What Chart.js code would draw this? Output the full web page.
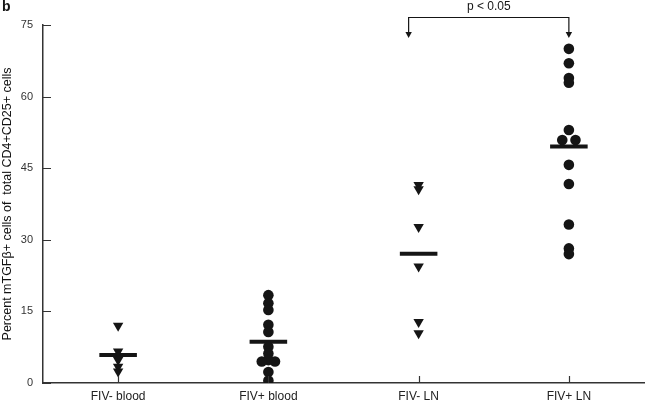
<!DOCTYPE html>
<html>
<head>
<meta charset="utf-8">
<script src="https://cdn.jsdelivr.net/npm/chart.js@4.4.0/dist/chart.umd.min.js"></script>
<style>
  html, body { margin: 0; padding: 0; background: #fff; }
</style>
</head>
<body>
<canvas id="chart" width="650" height="404"></canvas>
<script>
const categories = ['FIV- blood', 'FIV+ blood', 'FIV- LN', 'FIV+ LN'];
const fivNegBlood = [12.0, 6.6, 4.8, 3.4, 2.4];
const fivPosBlood = [18.4, 16.7, 15.3, 12.2, 10.7, 7.6, 6.2, 4.8, 4.5, 4.5, 2.3, 0.5];
const fivNegLN = [41.5, 40.6, 32.7, 24.4, 12.8, 10.4];
const fivPosLN = [70.0, 67.0, 63.9, 62.9, 53.0, 50.9, 50.9, 45.7, 41.7, 33.2, 28.2, 27.0];
const yTicks = [0, 15, 30, 45, 60, 75];
const pLabel = 'p < 0.05';

const groups = [fivNegBlood, fivPosBlood, fivNegLN, fivPosLN];
const markers = ['triangle', 'circle', 'triangle', 'circle'];
const ink = '#151515';

Chart.defaults.font.family = 'Arial, "Liberation Sans", sans-serif';

// equal values in a group are spread sideways, like a dot plot
function spread(values, pos) {
    const count = {}, seen = {};
    values.forEach(v => count[v] = (count[v] || 0) + 1);
    return values.map(v => {
        const k = seen[v] = (seen[v] || 0) + 1;
        return {x: pos + (k - 1 - (count[v] - 1) / 2) * 0.088, y: v};
    });
}

const mean = arr => arr.reduce((a, b) => a + b, 0) / arr.length;

let datasets = [];
groups.forEach((vals, i) => {
    const tri = markers[i] === 'triangle';
    datasets.push({
        label: categories[i],
        data: spread(vals, i + 1),
        pointStyle: markers[i],
        pointRotation: tri ? 180 : 0,
        pointRadius: tri ? 6 : 5.3,
        backgroundColor: ink,
        borderColor: ink,
        borderWidth: 0
    });
});
groups.forEach((vals, i) => {
    const m = mean(vals);
    datasets.push({
        label: categories[i] + ' mean',
        data: [{x: i + 1 - 0.125, y: m}, {x: i + 1 + 0.125, y: m}],
        showLine: true,
        pointRadius: 0,
        borderColor: ink,
        borderWidth: 4,
        borderCapStyle: 'butt'
    });
});

const extras = {
    id: 'extras',
    afterDraw(chart) {
        const ctx = chart.ctx, area = chart.chartArea;
        const xs = chart.scales.x, ys = chart.scales.y;
        ctx.save();
        ctx.strokeStyle = '#333';
        ctx.lineWidth = 1.2;
        // inward tick marks
        ctx.beginPath();
        yTicks.forEach(v => {
            const y = Math.round(ys.getPixelForValue(v)) + 0.5;
            ctx.moveTo(area.left, y);
            ctx.lineTo(area.left + 8, y);
        });
        categories.forEach((c, i) => {
            const x = Math.round(xs.getPixelForValue(i + 1)) + 0.5;
            ctx.moveTo(x, area.bottom);
            ctx.lineTo(x, area.bottom - 7);
        });
        ctx.stroke();

        // significance bracket
        const x1 = xs.getPixelForValue(3) - 10, x2 = xs.getPixelForValue(4);
        const top = area.top - 7.5, foot = area.top + 7;
        ctx.strokeStyle = ink;
        ctx.lineWidth = 1.2;
        ctx.beginPath();
        ctx.moveTo(x1, foot);
        ctx.lineTo(x1, top);
        ctx.lineTo(x2, top);
        ctx.lineTo(x2, foot);
        ctx.stroke();
        ctx.fillStyle = ink;
        [x1, x2].forEach(x => {
            ctx.beginPath();
            ctx.moveTo(x - 3.2, foot);
            ctx.lineTo(x + 3.2, foot);
            ctx.lineTo(x, foot + 6);
            ctx.closePath();
            ctx.fill();
        });
        ctx.font = '12px Arial, "Liberation Sans", sans-serif';
        ctx.textAlign = 'center';
        ctx.textBaseline = 'middle';
        ctx.fillText(pLabel, (x1 + x2) / 2, 7);

        ctx.font = 'bold 14px Arial, "Liberation Sans", sans-serif';
        ctx.textAlign = 'left';
        ctx.fillText('b', 2, 7);
        ctx.restore();
    }
};

new Chart(document.getElementById('chart'), {
    type: 'scatter',
    data: {datasets: datasets},
    options: {
        responsive: false,
        devicePixelRatio: 1,
        animation: false,
        layout: {padding: {top: 25, right: 0, left: 0, bottom: 0}},
        plugins: {legend: {display: false}, tooltip: {enabled: false}},
        scales: {
            x: {
                type: 'linear',
                min: 0.5,
                max: 4.5,
                afterBuildTicks: s => { s.ticks = categories.map((c, i) => ({value: i + 1})); },
                afterFit: s => { s.height = 21; },
                grid: {display: false, drawTicks: false},
                border: {display: true, color: '#333', width: 1.5},
                ticks: {
                    autoSkip: false,
                    maxRotation: 0,
                    padding: 6,
                    color: '#222',
                    font: {size: 12},
                    callback: v => categories[v - 1]
                }
            },
            y: {
                min: 0,
                max: 75,
                afterBuildTicks: s => { s.ticks = yTicks.map(v => ({value: v})); },
                afterFit: s => { s.width = 43; },
                grid: {display: false, drawTicks: false},
                border: {display: true, color: '#333', width: 1.5},
                ticks: {padding: 10, color: '#333', font: {size: 11}},
                title: {
                    display: true,
                    text: 'Percent mTGF\u03b2+ cells of  total CD4+CD25+ cells',
                    color: '#111',
                    font: {size: 12.5},
                    padding: 0
                }
            }
        }
    },
    plugins: [extras]
});
</script>
</body>
</html>
